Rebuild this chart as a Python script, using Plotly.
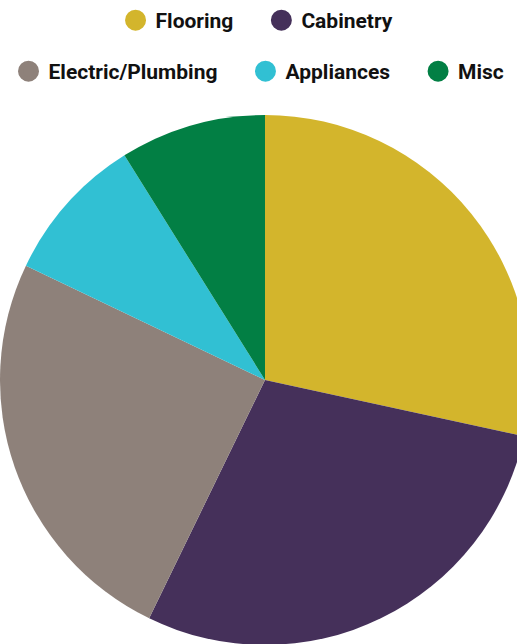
import plotly.graph_objects as go

categories = ["Flooring", "Cabinetry", "Electric/Plumbing", "Appliances", "Misc"]
values = [28.4, 28.8, 24.9, 9.0, 8.9]
colors = ["#D3B52C", "#45305A", "#8E817A", "#31C0D3", "#027F44"]
legend_groups = ["legend", "legend", "legend2", "legend2", "legend2"]
# extra gap after items that are followed by another item in the same row
row_pad = [True, False, True, True, False]

fig = go.Figure()
fig.add_trace(go.Pie(
    labels=categories, values=values, sort=False, direction="clockwise", rotation=0,
    marker=dict(colors=colors, line=dict(width=0)), textinfo="none", showlegend=False,
    domain=dict(x=[0, 1], y=[0.0227, 0.8258]),
))
for name, col, lg, pad in zip(categories, colors, legend_groups, row_pad):
    fig.add_trace(go.Scatter(
        x=[None], y=[None], mode="markers",
        name=name + ("\u00a0" * 4 + "\u200a" if pad else ""), legend=lg,
        marker=dict(symbol="circle", size=16, color=col, line=dict(color=col, width=5)),
    ))

legend_font = dict(family="Roboto", size=21, color="#111111", weight="bold")
fig.update_layout(
    width=530, height=660, autosize=False,
    margin=dict(l=0, r=0, t=0, b=0),
    paper_bgcolor="white", plot_bgcolor="white",
    xaxis=dict(visible=False), yaxis=dict(visible=False),
    legend=dict(orientation="h", x=0.485, xanchor="center", y=1.0, yanchor="top",
                font=legend_font, itemclick=False),
    legend2=dict(orientation="h", x=0.4887, xanchor="center", y=0.9227, yanchor="top",
                 font=legend_font, itemclick=False),
)
fig.write_html(
    "out.html",
    config={"displayModeBar": False},
    post_script="document.body.style.margin='0';document.body.style.overflow='hidden';",
)
